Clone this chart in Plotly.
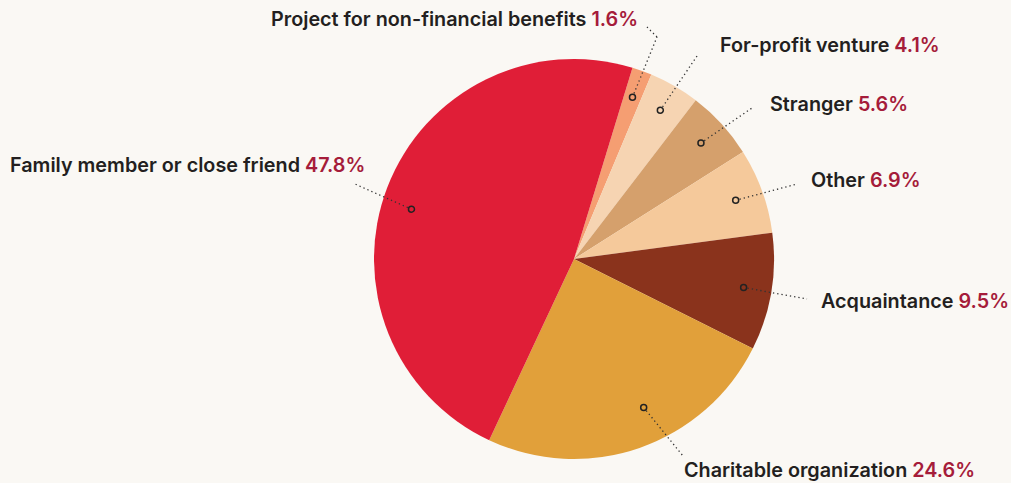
import math
import plotly.graph_objects as go

# ---- data ----
categories = ["Project for non-financial benefits", "For-profit venture", "Stranger",
              "Other", "Acquaintance", "Charitable organization", "Family member or close friend"]
shares = [1.6, 4.1, 5.6, 6.9, 9.5, 24.6, 47.8]
pct_labels = ["1.6%", "4.1%", "5.6%", "6.9%", "9.5%", "24.6%", "47.8%"]

# ---- styles / layout ----
colors = ["#F59E72", "#F6D4B2", "#D5A06C", "#F5C99B", "#8A331C", "#E1A03A", "#E01E37"]
W, H = 1011, 483
CX, CY, R = 574, 259, 200
ROT = 17
BG = "#FAF8F4"
TXT = "#231F20"
PCT = "#A51C3A"
FONT = "Inter"

# marker placement tweaks: (angle offset in degrees, radius fraction)
marker_adjust = [(0, 0.86), (0, 0.86), (0, 0.86), (0, 0.86), (0, 0.86), (-6, 0.82), (-4, 0.85)]
# label placement: leader path points after marker, (text x, y, xanchor)
label_layout = [
    ([(657, 37), (647, 27)], (640, 19, "right")),
    ([(697, 56)], (718, 45, "left")),
    ([(752, 108)], (768, 104, "left")),
    ([(797, 184)], (809, 180, "left")),
    ([(807, 299)], (819, 301, "left")),
    ([(683, 456)], (682, 470, "left")),
    ([(355, 184)], (367, 165, "right")),
]

fig = go.Figure()
fig.add_trace(go.Pie(
    labels=categories, values=shares, sort=False, direction="clockwise",
    rotation=ROT, marker=dict(colors=colors, line=dict(width=0)),
    textinfo="none", hoverinfo="label+percent", showlegend=False,
    domain=dict(x=[(CX - R) / W, (CX + R) / W], y=[(H - CY - R) / H, (H - CY + R) / H]),
))

total = sum(shares)
cum = 0
annotations = []
shapes = []
line_style = dict(color="#333333", width=1.3, dash="1.3px,3px")
for i, (cat, v, p) in enumerate(zip(categories, shares, pct_labels)):
    mid = ROT + (cum + v / 2) / total * 360
    cum += v
    da, rf = marker_adjust[i]
    a = math.radians(mid + da)
    mx = CX + rf * R * math.sin(a)
    my = CY - rf * R * math.cos(a)
    path, (tx, ty, anc) = label_layout[i]
    ex, ey = path[0]
    d = math.hypot(ex - mx, ey - my)
    px, py = mx + (ex - mx) / d * 4, my + (ey - my) / d * 4
    for (qx, qy) in path:
        shapes.append(dict(type="line", xref="x", yref="y", x0=px, y0=py, x1=qx, y1=qy,
                           line=line_style, layer="above"))
        px, py = qx, qy
    shapes.append(dict(type="circle", xref="x", yref="y", x0=mx - 3, y0=my - 3, x1=mx + 3, y1=my + 3,
                       line=dict(color="#222222", width=1.5), fillcolor="rgba(0,0,0,0)", layer="above"))
    annotations.append(dict(
        x=tx, y=ty, xref="x", yref="y", xanchor=anc, yanchor="middle",
        text=f"{cat} <span style='color:{PCT}'>{p}</span>",
        showarrow=False, font=dict(family=FONT, size=19.8, color=TXT, weight=600)))

fig.update_layout(
    width=W, height=H, margin=dict(l=0, r=0, t=0, b=0),
    paper_bgcolor=BG, plot_bgcolor="rgba(0,0,0,0)",
    xaxis=dict(range=[0, W], visible=False, fixedrange=True, domain=[0, 1]),
    yaxis=dict(range=[H, 0], visible=False, fixedrange=True, domain=[0, 1]),
    annotations=annotations, shapes=shapes,
)
fig.write_html("out.html", config={"displayModeBar": False},
               post_script="document.body.style.margin='0';")
